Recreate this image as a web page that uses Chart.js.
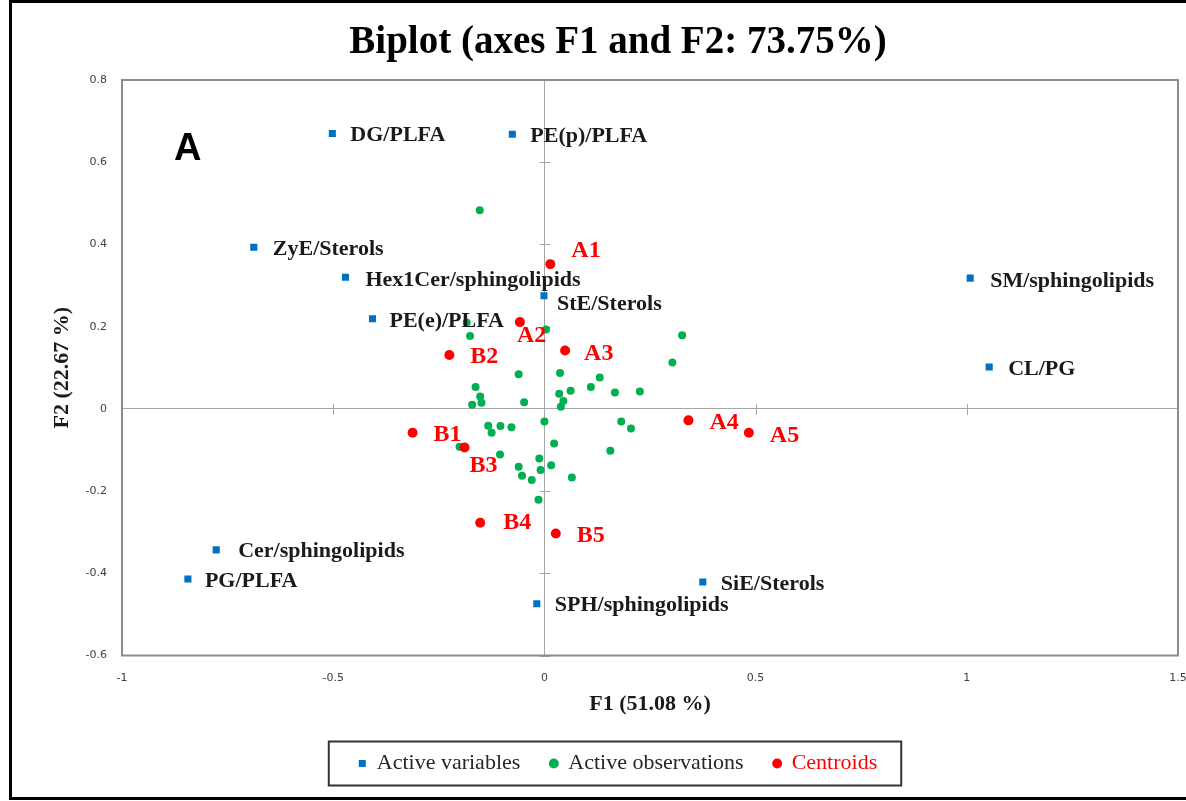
<!DOCTYPE html>
<html>
<head>
<meta charset="utf-8">
<script src="https://cdn.jsdelivr.net/npm/chart.js@4/dist/chart.umd.min.js"></script>
<style>
  html, body { margin: 0; padding: 0; background: #fff; overflow: hidden; }
  #wrap { position: relative; width: 1186px; height: 801px; }
</style>
</head>
<body>
<div id="wrap"><canvas id="biplot"></canvas></div>
<script>
/* ---------------- DATA ---------------- */

const xTicks = [-1, -0.5, 0, 0.5, 1, 1.5];
const xTickLabels = ["-1", "-0.5", "0", "0.5", "1", "1.5"];
const yTicks = [-0.6, -0.4, -0.2, 0, 0.2, 0.4, 0.6, 0.8];
const yTickLabels = ["-0.6", "-0.4", "-0.2", "0", "0.2", "0.4", "0.6", "0.8"];

// active variables (blue squares)
const varNames = ["DG/PLFA", "PE(p)/PLFA", "ZyE/Sterols", "Hex1Cer/sphingolipids",
    "StE/Sterols", "PE(e)/PLFA", "SM/sphingolipids", "CL/PG",
    "Cer/sphingolipids", "PG/PLFA", "SiE/Sterols", "SPH/sphingolipids"];
const varX = [-0.502, -0.076, -0.688, -0.471, -0.001, -0.407, 1.008, 1.053, -0.777, -0.844, 0.375, -0.018];
const varY = [0.670, 0.668, 0.393, 0.320, 0.275, 0.219, 0.318, 0.102, -0.343, -0.414, -0.421, -0.474];

// active observations (green dots)
const obsX = [-0.153, -0.184, -0.176, 0.004, 0.326, 0.303, -0.061, 0.037, 0.131, -0.163,
    0.110, 0.062, 0.167, 0.226, 0.035, -0.152, -0.149, -0.171, -0.048, 0.045,
    0.039, 0.000, 0.182, 0.205, -0.133, -0.104, -0.078, -0.125, 0.023, 0.156,
    -0.201, -0.105, -0.012, 0.016, -0.009, -0.061, -0.053, -0.030, 0.065, -0.014];
const obsY = [0.483, 0.210, 0.177, 0.193, 0.179, 0.113, 0.084, 0.087, 0.076, 0.053,
    0.053, 0.044, 0.040, 0.042, 0.037, 0.030, 0.015, 0.010, 0.016, 0.019,
    0.005, -0.031, -0.031, -0.048, -0.041, -0.042, -0.045, -0.058, -0.084, -0.102,
    -0.092, -0.111, -0.121, -0.137, -0.149, -0.141, -0.163, -0.173, -0.167, -0.221];

// centroids (red dots)
const centNames = ["A1", "A2", "A3", "A4", "A5", "B1", "B2", "B3", "B4", "B5"];
const centX = [0.014, -0.058, 0.049, 0.341, 0.484, -0.312, -0.225, -0.189, -0.152, 0.027];
const centY = [0.352, 0.211, 0.142, -0.028, -0.058, -0.058, 0.131, -0.094, -0.277, -0.303];

/* ---------------- LABEL OFFSETS (px from marker) ---------------- */

const varLabelDx = [18, 18, 19, 20, 13, 17, 20, 19, 22, 17, 18, 18];
const varLabelDy = [2, 2, 2, 3, 8, 2, 3, 2, 1, 2, 2, 2];
const centLabelDx = [21, -3, 19, 21, 21, 21, 21, 5, 23, 21];
const centLabelDy = [-13, 14, 3, 2, 3, 2, 2, 18, 0, 2];

const BLUE = "#0070C0";
const GREEN = "#00B050";
const RED = "#FF0000";
const AXIS_GRAY = "#a6a6a6";

function toPoints(xs, ys) {
    return xs.map((x, i) => ({ x: x, y: ys[i] }));
}

/* ---------------- PLUGINS ---------------- */

// plot frame + little cross ticks on the zero lines
const framePlugin = {
    id: "frame",
    beforeDatasetsDraw(chart) {
        const { ctx, chartArea, scales } = chart;
        const x0 = scales.x.getPixelForValue(0);
        const y0 = scales.y.getPixelForValue(0);

        ctx.save();
        ctx.strokeStyle = AXIS_GRAY;
        ctx.lineWidth = 1;
        ctx.beginPath();
        yTicks.forEach(v => {
            if (v === 0) return;
            const py = Math.round(scales.y.getPixelForValue(v)) + 0.5;
            ctx.moveTo(x0 - 5, py);
            ctx.lineTo(x0 + 6, py);
        });
        xTicks.forEach(v => {
            if (v === 0) return;
            const px = Math.round(scales.x.getPixelForValue(v)) + 0.5;
            ctx.moveTo(px, y0 - 5);
            ctx.lineTo(px, y0 + 6);
        });
        ctx.stroke();

        ctx.strokeStyle = "#8c8c8c";
        ctx.lineWidth = 2;
        ctx.strokeRect(chartArea.left, chartArea.top,
            chartArea.right - chartArea.left, chartArea.bottom - chartArea.top);
        ctx.restore();
    }
};

// point labels + panel letter + legend box + figure frame
const labelPlugin = {
    id: "pointLabels",
    afterDatasetsDraw(chart) {
        const { ctx, chartArea } = chart;
        ctx.save();
        ctx.textAlign = "left";
        ctx.textBaseline = "middle";

        ctx.font = 'bold 22px "Liberation Serif", "Times New Roman", serif';
        ctx.fillStyle = "#1a1a1a";
        chart.getDatasetMeta(0).data.forEach((pt, i) => {
            ctx.fillText(varNames[i], pt.x + varLabelDx[i], pt.y + varLabelDy[i]);
        });

        ctx.font = 'bold 24px "Liberation Serif", "Times New Roman", serif';
        ctx.fillStyle = RED;
        chart.getDatasetMeta(2).data.forEach((pt, i) => {
            ctx.fillText(centNames[i], pt.x + centLabelDx[i], pt.y + centLabelDy[i]);
        });

        ctx.font = 'bold 38px "Liberation Sans", Arial, sans-serif';
        ctx.fillStyle = "#000";
        ctx.textBaseline = "alphabetic";
        ctx.fillText("A", chartArea.left + 52, chartArea.top + 80);
        ctx.restore();
    },
    afterDraw(chart) {
        const { ctx } = chart;
        const boxes = chart.legend.legendHitBoxes;
        ctx.save();
        if (boxes && boxes.length) {
            const left = Math.min(...boxes.map(b => b.left)) - 30;
            const right = Math.max(...boxes.map(b => b.left + b.width)) + 24;
            const mid = boxes[0].top + boxes[0].height / 2;
            ctx.strokeStyle = "#333";
            ctx.lineWidth = 2;
            ctx.strokeRect(left, mid - 22, right - left, 44);
        }
        // outer figure frame
        ctx.strokeStyle = "#000";
        ctx.lineWidth = 3;
        ctx.strokeRect(10.5, 1.5, 1200, 797);
        ctx.restore();
    }
};

/* ---------------- CHART ---------------- */

const ctx = document.getElementById("biplot");

const biplot = new Chart(ctx, {

    type: "scatter",

    data: {
        datasets: [
            {
                label: "Active variables",
                data: toPoints(varX, varY),
                pointStyle: "rect",
                pointRadius: 5,
                backgroundColor: BLUE,
                borderWidth: 0,
                order: 1
            },
            {
                label: "Active observations",
                data: toPoints(obsX, obsY),
                pointStyle: "circle",
                pointRadius: 4,
                backgroundColor: GREEN,
                borderWidth: 0,
                order: 3
            },
            {
                label: "Centroids",
                data: toPoints(centX, centY),
                pointStyle: "circle",
                pointRadius: 5,
                backgroundColor: RED,
                borderWidth: 0,
                order: 2
            }
        ]
    },

    options: {
        responsive: true,
        maintainAspectRatio: false,
        animation: false,
        events: [],

        layout: {
            padding: { left: 58, right: 8, top: 0, bottom: 16.5 }
        },

        scales: {
            x: {
                type: "linear",
                min: -1,
                max: 1.5,
                afterBuildTicks(axis) {
                    axis.ticks = xTicks.map(v => ({ value: v }));
                },
                afterFit(axis) {
                    axis.height = 67;
                    axis.paddingLeft = 0;
                    axis.paddingRight = 0;
                },
                ticks: {
                    padding: 16,
                    color: "#404040",
                    font: { family: '"DejaVu Sans", Verdana, sans-serif', size: 11 },
                    callback: v => xTickLabels[xTicks.indexOf(v)]
                },
                grid: {
                    drawTicks: false,
                    lineWidth: 1,
                    color: c => (c.tick && c.tick.value === 0) ? AXIS_GRAY : "rgba(0,0,0,0)"
                },
                border: { display: false },
                title: {
                    display: true,
                    text: "F1 (51.08 %)",
                    color: "#1a1a1a",
                    padding: { top: 0, bottom: 5 },
                    font: { family: '"Liberation Serif", "Times New Roman", serif', size: 22, weight: "bold" }
                }
            },
            y: {
                type: "linear",
                min: -0.6,
                max: 0.8,
                afterBuildTicks(axis) {
                    axis.ticks = yTicks.map(v => ({ value: v }));
                },
                afterFit(axis) {
                    axis.width = 64;
                },
                ticks: {
                    padding: 15,
                    color: "#404040",
                    font: { family: '"DejaVu Sans", Verdana, sans-serif', size: 11 },
                    callback: v => yTickLabels[yTicks.indexOf(v)]
                },
                grid: {
                    drawTicks: false,
                    lineWidth: 1,
                    color: c => (c.tick && c.tick.value === 0) ? AXIS_GRAY : "rgba(0,0,0,0)"
                },
                border: { display: false },
                title: {
                    display: true,
                    text: "F2 (22.67 %)",
                    color: "#1a1a1a",
                    padding: { top: -9, bottom: 0 },
                    font: { family: '"Liberation Serif", "Times New Roman", serif', size: 22, weight: "bold" }
                }
            }
        },

        plugins: {
            tooltip: { enabled: false },
            title: {
                display: true,
                text: "Biplot (axes F1 and F2: 73.75%)",
                color: "#000",
                padding: { top: 19.6, bottom: 13.6 },
                font: { family: '"Liberation Serif", "Times New Roman", serif', size: 39, weight: "bold" }
            },
            legend: {
                position: "bottom",
                labels: {
                    usePointStyle: true,
                    boxWidth: 7,
                    boxHeight: 7,
                    padding: 30,
                    color: "#262626",
                    font: { family: '"Liberation Serif", "Times New Roman", serif', size: 22 },
                    generateLabels(chart) {
                        return chart.data.datasets.map((ds, i) => ({
                            text: ds.label,
                            fillStyle: ds.backgroundColor,
                            strokeStyle: ds.backgroundColor,
                            lineWidth: 0,
                            pointStyle: ds.pointStyle,
                            fontColor: i === 2 ? RED : "#262626",
                            datasetIndex: i,
                            hidden: false
                        }));
                    }
                }
            }
        }
    },

    plugins: [framePlugin, labelPlugin]
});
</script>
</body>
</html>
